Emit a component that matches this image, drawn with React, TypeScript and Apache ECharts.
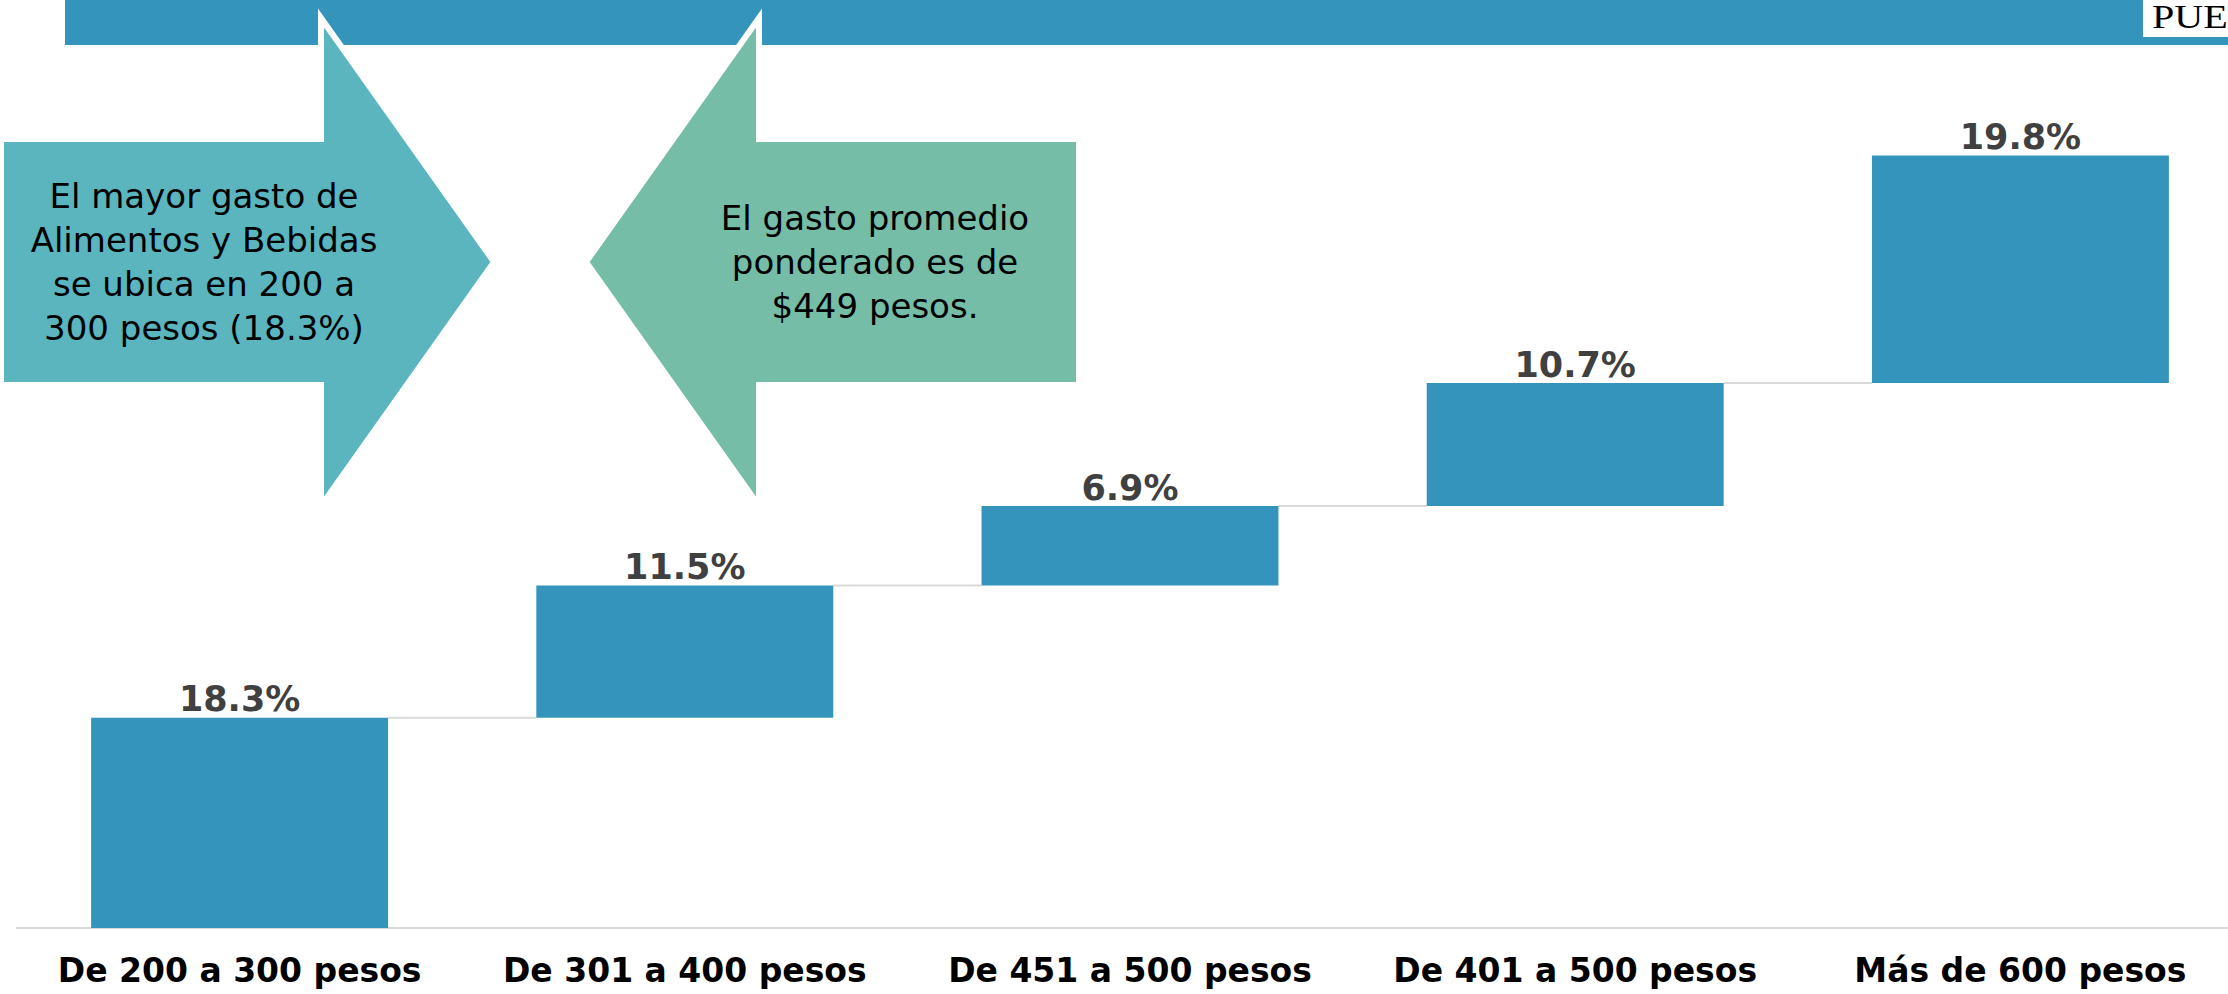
import React, { useEffect, useRef } from "react";
import * as echarts from "echarts";

const categories = [
  "De 200 a 300 pesos",
  "De 301 a 400 pesos",
  "De 451 a 500 pesos",
  "De 401 a 500 pesos",
  "Más de 600 pesos",
];
const shares = [18.3, 11.5, 6.9, 10.7, 19.8];
const calloutLeft = ["El mayor gasto de", "Alimentos y Bebidas", "se ubica en 200 a", "300 pesos (18.3%)"];
const calloutRight = ["El gasto promedio", "ponderado es de", "$449 pesos."];
const logoText = "PUEBLA";

const BAR = "#3594BB";
const ARROW_L = "#5AB5BF";
const ARROW_R = "#76BDA7";
const FONT = "'DejaVu Sans', Verdana, sans-serif";

export default function App() {
  const ref = useRef<HTMLDivElement>(null);
  useEffect(() => {
    if (!ref.current) return;
    const chart = echarts.init(ref.current, null, { renderer: "svg" });
    const bases: number[] = [];
    let acc = 0;
    shares.forEach((v) => {
      bases.push(acc);
      acc += v;
    });
    const tops = shares.map((v, i) => bases[i] + v);
    const connectors = tops.slice(0, -1).map((t, i) => [i, t]);

    chart.setOption({
      animation: false,
      backgroundColor: "#ffffff",
      grid: { left: 17, right: 17, top: 123.3, bottom: 66, containLabel: false },
      xAxis: {
        type: "category",
        data: categories,
        axisLine: { show: true, lineStyle: { color: "#d9d9d9", width: 2 } },
        axisTick: { show: false },
        splitLine: { show: false },
        axisLabel: {
          interval: 0,
          margin: 26,
          color: "#000000",
          fontFamily: FONT,
          fontWeight: "bold",
          fontSize: 33,
        },
      },
      yAxis: { type: "value", min: 0, max: 70, show: false },
      series: [
        {
          type: "custom",
          z: 1,
          silent: true,
          data: connectors,
          encode: { x: 0, y: 1 },
          renderItem: (params: any, api: any) => {
            const i = api.value(0);
            const v = api.value(1);
            const p1 = api.coord([i, v]);
            const p2 = api.coord([i + 1, v]);
            const bw = api.size([1, 0])[0];
            const half = (bw * (1 - 0.333)) / 2;
            return {
              type: "line",
              shape: { x1: p1[0] + half, y1: p1[1], x2: p2[0] - half, y2: p2[1] },
              style: { stroke: "#d9d9d9", lineWidth: 2 },
            };
          },
        },
        {
          type: "bar",
          stack: "w",
          silent: true,
          barCategoryGap: "33.3%",
          itemStyle: { color: "transparent" },
          data: bases,
          z: 2,
        },
        {
          type: "bar",
          stack: "w",
          barCategoryGap: "33.3%",
          itemStyle: { color: BAR },
          data: shares,
          z: 2,
          label: {
            show: true,
            position: "top",
            distance: 1,
            formatter: (p: any) => `${p.value}%`,
            color: "#404040",
            fontFamily: FONT,
            fontWeight: "bold",
            fontSize: 35,
            lineHeight: 35,
          },
        },
      ],
      graphic: [
        {
          type: "rect",
          z: 10,
          shape: { x: 65, y: 0, width: 2300, height: 45 },
          style: { fill: BAR },
        },
        {
          type: "polygon",
          z: 11,
          shape: {
            points: [
              [1, 139], [321, 139], [321, 18], [494, 262], [321, 506], [321, 385], [1, 385],
            ],
          },
          style: { fill: ARROW_L, stroke: "#ffffff", lineWidth: 6 },
        },
        {
          type: "polygon",
          z: 11,
          shape: {
            points: [
              [1079, 139], [759, 139], [759, 18], [586, 262], [759, 506], [759, 385], [1079, 385],
            ],
          },
          style: { fill: ARROW_R, stroke: "#ffffff", lineWidth: 6 },
        },
        {
          type: "text",
          z: 12,
          x: 204,
          y: 262,
          style: {
            text: calloutLeft.join("\n"),
            fill: "#000000",
            fontFamily: FONT,
            fontSize: 34,
            lineHeight: 44,
            align: "center",
            verticalAlign: "middle",
          },
        },
        {
          type: "text",
          z: 12,
          x: 875,
          y: 262,
          style: {
            text: calloutRight.join("\n"),
            fill: "#000000",
            fontFamily: FONT,
            fontSize: 34,
            lineHeight: 44,
            align: "center",
            verticalAlign: "middle",
          },
        },
        {
          type: "rect",
          z: 13,
          shape: { x: 2143, y: 0, width: 200, height: 37 },
          style: { fill: "#ffffff" },
        },
        {
          type: "text",
          z: 14,
          x: 2152,
          y: 17,
          scaleX: 1.18,
          style: {
            text: logoText,
            fill: "#000000",
            fontFamily: "'Liberation Serif', 'DejaVu Serif', serif",
            fontSize: 34,
            align: "left",
            verticalAlign: "middle",
          },
        },
      ],
    });
    return () => chart.dispose();
  }, []);

  return (
    <div
      style={{
        position: "fixed",
        left: 0,
        top: 0,
        width: 2228,
        height: 994,
        overflow: "hidden",
        background: "#ffffff",
      }}
    >
      <div ref={ref} style={{ width: 2260, height: 994 }} />
    </div>
  );
}
